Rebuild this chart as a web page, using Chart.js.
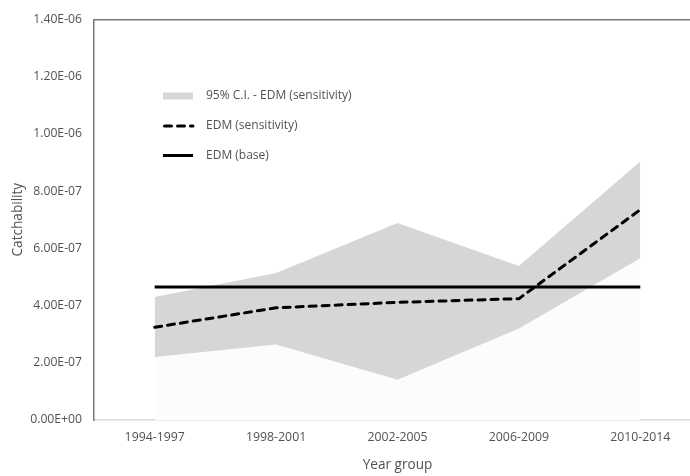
<!DOCTYPE html>
<html>
<head>
<meta charset="utf-8">
<script src="https://cdn.jsdelivr.net/npm/chart.js@4/dist/chart.umd.min.js"></script>
<style>
  html, body { margin: 0; padding: 0; background: #ffffff; overflow: hidden; }
  #wrap { width: 690px; height: 476px; overflow: hidden; position: relative; }
  canvas { display: block; }
</style>
</head>
<body>
<div id="wrap"><canvas id="chart" width="701" height="476"></canvas></div>
<script>
// Year groups on the x axis
const categories = ['1994-1997', '1998-2001', '2002-2005', '2006-2009', '2010-2014'];
// Catchability estimates
const ciLower = [2.20e-7, 2.64e-7, 1.41e-7, 3.20e-7, 5.65e-7];
const ciUpper = [4.30e-7, 5.14e-7, 6.88e-7, 5.38e-7, 9.03e-7];
const edmSensitivity = [3.24e-7, 3.92e-7, 4.11e-7, 4.24e-7, 7.35e-7];
const edmBase = [4.65e-7, 4.65e-7, 4.65e-7, 4.65e-7, 4.65e-7];
// Y axis range and tick step
const yMin = 0;
const yMax = 1.4e-6;
const yStep = 2e-7;

const TEXT = '#525252';
const FONT = '"Open Sans", "DejaVu Sans", sans-serif';

// Excel-style scientific format: 1.40E-06
function sci(v) {
  if (Math.abs(v) < 1e-20) return '0.00E+00';
  let exp = Math.floor(Math.log10(Math.abs(v)));
  let mant = v / Math.pow(10, exp);
  if (Math.abs(mant) >= 9.995) { mant /= 10; exp += 1; }
  const sign = exp < 0 ? '-' : '+';
  const e = String(Math.abs(exp)).padStart(2, '0');
  return mant.toFixed(2) + 'E' + sign + e;
}

// Legend drawn inside the plot area, upper left
const innerLegend = {
  id: 'innerLegend',
  afterDatasetsDraw(chart) {
    const ctx = chart.ctx;
    const items = [
      { ds: 2, y: 96, kind: 'box' },
      { ds: 0, y: 126, kind: 'line' },
      { ds: 1, y: 155.5, kind: 'line' }
    ];
    const x0 = 163, x1 = 193, tx = 206;
    ctx.save();
    items.forEach(it => {
      const d = chart.data.datasets[it.ds];
      if (it.kind === 'box') {
        ctx.fillStyle = d.backgroundColor;
        ctx.fillRect(x0, it.y - 3.5, x1 - x0, 7);
      } else {
        ctx.strokeStyle = d.borderColor;
        ctx.lineWidth = d.borderWidth;
        ctx.lineCap = d.borderCapStyle || 'butt';
        ctx.setLineDash(d.borderDash || []);
        ctx.beginPath();
        ctx.moveTo(x0 + (d.borderDash ? 1.5 : 0), it.y);
        ctx.lineTo(x1, it.y);
        ctx.stroke();
        ctx.setLineDash([]);
      }
      ctx.fillStyle = TEXT;
      ctx.font = '12px ' + FONT;
      ctx.textBaseline = 'middle';
      ctx.textAlign = 'left';
      ctx.fillText(d.label, tx, it.y);
    });
    ctx.restore();
  }
};

new Chart(document.getElementById('chart'), {
  type: 'line',
  data: {
    labels: categories,
    datasets: [
      {
        label: 'EDM (sensitivity)',
        data: edmSensitivity,
        borderColor: '#000000',
        borderWidth: 3,
        borderDash: [7, 6],
        borderCapStyle: 'round',
        pointRadius: 0,
        fill: false,
        tension: 0
      },
      {
        label: 'EDM (base)',
        data: edmBase,
        borderColor: '#000000',
        borderWidth: 3,
        pointRadius: 0,
        fill: false,
        tension: 0
      },
      {
        label: '95% C.I. - EDM (sensitivity)',
        data: ciUpper,
        borderWidth: 0,
        borderColor: 'rgba(0,0,0,0)',
        backgroundColor: '#d5d6d6',
        pointRadius: 0,
        fill: '+1',
        tension: 0
      },
      {
        label: 'lower bound',
        data: ciLower,
        borderWidth: 0,
        borderColor: 'rgba(0,0,0,0)',
        backgroundColor: '#fcfcfc',
        pointRadius: 0,
        fill: 'origin',
        tension: 0
      }
    ]
  },
  options: {
    responsive: false,
    animation: false,
    layout: { padding: { top: 17, left: 0, right: 0, bottom: 0 } },
    plugins: {
      legend: { display: false },
      tooltip: { enabled: false }
    },
    scales: {
      x: {
        type: 'category',
        position: 'bottom',
        offset: true,
        grid: { display: false, drawTicks: false },
        border: { display: true, color: '#d9d9d9', width: 1.5 },
        ticks: {
          color: TEXT,
          font: { family: FONT, size: 12.3 },
          padding: 10,
          maxRotation: 0,
          autoSkip: false
        },
        title: {
          display: true,
          text: 'Year group',
          color: TEXT,
          font: { family: FONT, size: 13.6 },
          padding: { top: 0, bottom: 3 }
        },
        afterFit(scale) { scale.height = 56; }
      },
      xTop: {
        type: 'category',
        position: 'top',
        offset: true,
        grid: { display: false, drawTicks: false },
        border: { display: true, color: '#7a7a7a', width: 1.5 },
        ticks: { display: false },
        afterFit(scale) { scale.height = 0; }
      },
      y: {
        type: 'linear',
        position: 'left',
        min: yMin,
        max: yMax,
        grid: { display: false, drawTicks: false },
        border: { display: true, color: '#7a7a7a', width: 1.5 },
        ticks: {
          stepSize: yStep,
          color: TEXT,
          font: { family: FONT, size: 12.2 },
          padding: 12,
          callback: (v) => sci(v)
        },
        title: {
          display: true,
          text: 'Catchability',
          color: TEXT,
          font: { family: FONT, size: 13.6 },
          padding: { top: 10, bottom: 0 }
        },
        afterFit(scale) { scale.width = 94; }
      }
    }
  },
  plugins: [innerLegend]
});
</script>
</body>
</html>
